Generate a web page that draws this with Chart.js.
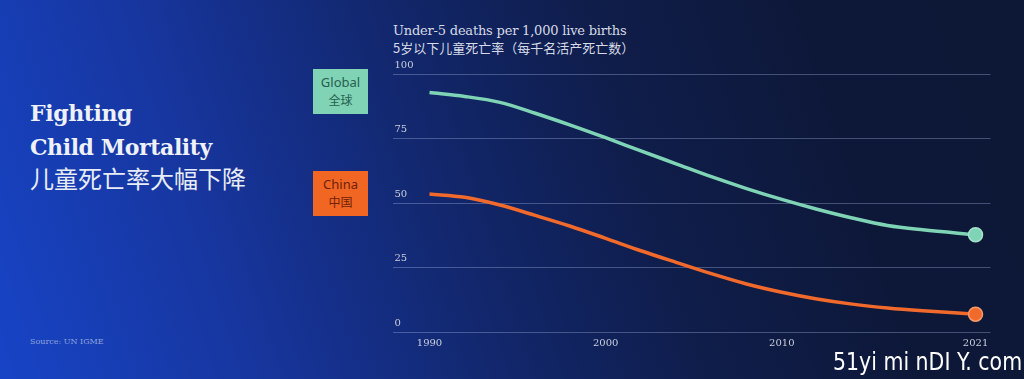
<!DOCTYPE html>
<html>
<head>
<meta charset="utf-8">
<script src="https://cdn.jsdelivr.net/npm/chart.js@4.4.1/dist/chart.umd.min.js"></script>
<style>
  html, body {
    margin: 0;
    padding: 0;
    width: 1024px;
    height: 379px;
    overflow: hidden;
  }
  body {
    position: relative;
    background: linear-gradient(72deg, #1744c6 0%, #17369f 22%, #122870 42%, #0f1d4a 62%, #0d1839 80%, #0d1836 100%);
    font-family: "DejaVu Serif", serif;
  }
  .title {
    position: absolute;
    left: 30px;
    top: 96px;
    color: #eef1f8;
    font-family: "DejaVu Serif", serif;
    font-weight: bold;
    font-size: 22px;
    line-height: 34px;
    letter-spacing: -0.4px;
  }
  .title-cn {
    position: absolute;
    left: 30px;
    top: 163px;
    color: #e8ecf6;
    font-family: "Noto Sans CJK SC", sans-serif;
    font-size: 24px;
    line-height: 30px;
  }
  .source {
    position: absolute;
    left: 30px;
    top: 337px;
    color: #8fa4dc;
    font-family: "DejaVu Serif", serif;
    font-size: 8px;
  }
  .axis-title {
    position: absolute;
    left: 393px;
    top: 22px;
    color: #d6dae6;
  }
  .axis-title .en {
    font-family: "DejaVu Serif", serif;
    font-size: 13px;
    line-height: 18px;
    letter-spacing: -0.2px;
  }
  .axis-title .cn {
    font-family: "Noto Sans CJK SC", sans-serif;
    font-size: 13px;
    line-height: 16px;
  }
  .tag {
    position: absolute;
    left: 313px;
    width: 55px;
    height: 45px;
    text-align: center;
    font-family: "Noto Sans", "Noto Sans CJK SC", sans-serif;
    font-size: 13px;
    line-height: 18px;
    padding-top: 4px;
    box-sizing: border-box;
  }
  .tag .cn {
    font-family: "Noto Sans CJK SC", sans-serif;
    font-size: 12px;
  }
  #tagGlobal {
    top: 69px;
    background: #80d3b5;
    color: #26604e;
  }
  #tagChina {
    top: 171px;
    background: #f26623;
    color: #6e2208;
  }
  .chart-box {
    position: absolute;
    left: 384px;
    top: 59px;
    width: 615px;
    height: 297px;
  }
  .mark {
    position: absolute;
    left: 833px;
    top: 347px;
    color: #ffffff;
    font-family: "DejaVu Sans", sans-serif;
    font-size: 25px;
    line-height: 30px;
    transform: scaleX(0.82);
    transform-origin: left top;
    white-space: pre;
  }
</style>
</head>
<body>
  <div class="title">Fighting<br>Child Mortality</div>
  <div class="title-cn">儿童死亡率大幅下降</div>
  <div class="source">Source: UN IGME</div>
  <div class="axis-title">
    <div class="en">Under-5 deaths per 1,000 live births</div>
    <div class="cn">5岁以下儿童死亡率（每千名活产死亡数）</div>
  </div>
  <div class="tag" id="tagGlobal">Global<br><span class="cn">全球</span></div>
  <div class="tag" id="tagChina">China<br><span class="cn">中国</span></div>
  <div class="chart-box"><canvas id="chart"></canvas></div>
  <div class="mark">51yi mi nDI Y. com</div>

<script>
// years and values
const years = [1990, 1992, 1994, 1996, 1998, 2000, 2002, 2004, 2006, 2008, 2010, 2012, 2014, 2016, 2018, 2021];
const globalRate = [92.8, 91.3, 89.0, 84.8, 80.2, 75.3, 70.2, 65.2, 60.2, 55.6, 51.4, 47.6, 44.2, 41.3, 39.6, 37.7];
const chinaRate = [53.5, 52.2, 49.2, 45.2, 41.0, 36.3, 31.5, 27.0, 22.6, 18.6, 15.4, 12.8, 10.8, 9.3, 8.2, 6.9];
const xTicks = [1990, 2000, 2010, 2021];
const yTicks = [0, 25, 50, 75, 100];

const globalColor = '#7fd4b6';
const chinaColor = '#f26a2b';

function toPoints(values) {
    return years.map((y, i) => ({ x: y, y: values[i] }));
}

// only the last point gets a dot
function endDot(ctx) {
    return ctx.dataIndex === years.length - 1 ? 7 : 0;
}

document.addEventListener('DOMContentLoaded', () => {
    const ctx = document.getElementById('chart').getContext('2d');

    new Chart(ctx, {
        type: 'line',
        data: {
            datasets: [{
                label: 'Global',
                data: toPoints(globalRate),
                borderColor: globalColor,
                backgroundColor: globalColor,
                borderWidth: 3.5,
                cubicInterpolationMode: 'monotone',
                pointRadius: endDot,
                pointBorderWidth: 1.5,
                pointBorderColor: '#a6e3cc',
                pointHoverRadius: endDot
            }, {
                label: 'China',
                data: toPoints(chinaRate),
                borderColor: chinaColor,
                backgroundColor: chinaColor,
                borderWidth: 3.5,
                cubicInterpolationMode: 'monotone',
                pointRadius: endDot,
                pointBorderWidth: 1.5,
                pointBorderColor: '#f79a6c',
                pointHoverRadius: endDot
            }]
        },
        options: {
            responsive: true,
            maintainAspectRatio: false,
            animation: false,
            clip: false,
            layout: {
                padding: { top: 15, left: 0, right: 0, bottom: 0 }
            },
            plugins: {
                legend: { display: false },
                tooltip: { enabled: false }
            },
            scales: {
                x: {
                    type: 'linear',
                    min: 1987.9,
                    max: 2021.85,
                    afterBuildTicks: (scale) => {
                        scale.ticks = xTicks.map(v => ({ value: v }));
                    },
                    afterFit: (scale) => {
                        scale.height = 24;
                        scale.paddingLeft = 0;
                        scale.paddingRight = 0;
                    },
                    grid: { display: false, drawTicks: false },
                    border: { display: false },
                    ticks: {
                        color: '#c9cedc',
                        padding: 5,
                        maxRotation: 0,
                        font: { family: 'DejaVu Serif', size: 10 },
                        callback: (v) => String(v)
                    }
                },
                y: {
                    min: 0,
                    max: 100,
                    afterBuildTicks: (scale) => {
                        scale.ticks = yTicks.map(v => ({ value: v }));
                    },
                    afterFit: (scale) => {
                        scale.width = 0;
                        scale.paddingTop = 0;
                        scale.paddingBottom = 0;
                    },
                    grid: {
                        color: 'rgba(170, 185, 230, 0.35)',
                        lineWidth: 1,
                        drawTicks: false
                    },
                    border: { display: false },
                    ticks: {
                        mirror: true,
                        padding: 2,
                        labelOffset: -9,
                        color: '#c9cedc',
                        font: { family: 'DejaVu Serif', size: 10 },
                        callback: (v) => String(v)
                    }
                }
            }
        }
    });
});
</script>
</body>
</html>
